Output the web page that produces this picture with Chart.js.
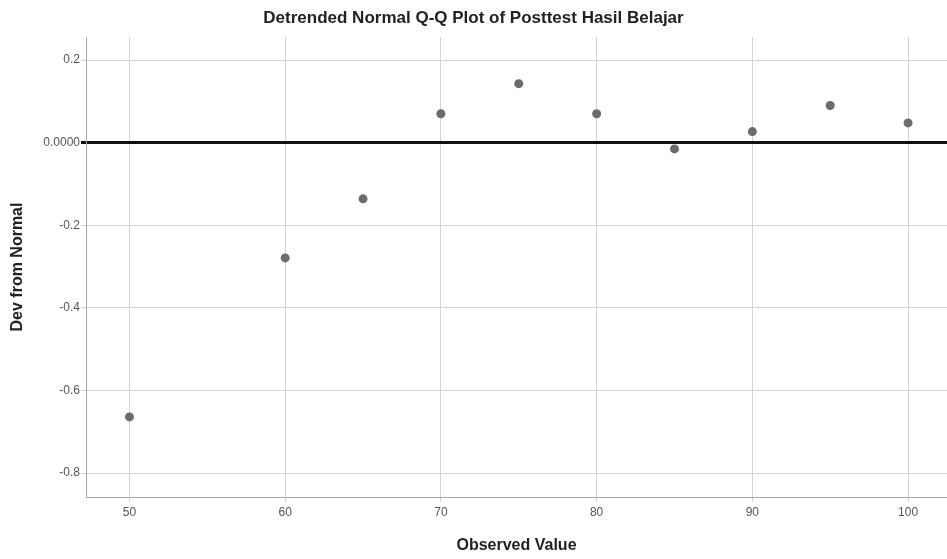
<!DOCTYPE html>
<html>
<head>
<meta charset="utf-8">
<script src="https://cdn.jsdelivr.net/npm/chart.js@4/dist/chart.umd.min.js"></script>
<style>
  html, body { margin: 0; padding: 0; background: #fff; }
  #wrap { width: 947px; height: 559px; }
</style>
</head>
<body>
<div id="wrap"><canvas id="qqChart"></canvas></div>
<script>
// observed values and their deviation from normal
const observed = [50, 60, 65, 70, 75, 80, 85, 90, 95, 100];
const devFromNormal = [-0.664, -0.279, -0.136, 0.070, 0.143, 0.070, -0.015, 0.027, 0.090, 0.048];

const xTicks = [50, 60, 70, 80, 90, 100];
const yTicks = [-0.8, -0.6, -0.4, -0.2, 0, 0.2];

const FONT = "'Liberation Sans', Arial, sans-serif";

const ctx = document.getElementById('qqChart');
new Chart(ctx, {
    type: 'scatter',
    data: {
        datasets: [{
            label: 'Dev from Normal',
            data: observed.map(function(x, i) { return { x: x, y: devFromNormal[i] }; }),
            backgroundColor: '#6c6c6c',
            borderColor: '#6c6c6c',
            borderWidth: 0,
            pointRadius: 4.5,
            pointHoverRadius: 4.5
        }]
    },
    options: {
        responsive: true,
        maintainAspectRatio: false,
        animation: false,
        layout: { padding: 0, autoPadding: false },
        plugins: {
            legend: { display: false },
            tooltip: { enabled: false },
            title: {
                display: true,
                text: 'Detrended Normal Q-Q Plot of Posttest Hasil Belajar',
                color: '#222',
                font: { family: FONT, size: 17, weight: 'bold' },
                padding: { top: 8, bottom: 8.6 }
            }
        },
        scales: {
            x: {
                type: 'linear',
                min: 47.21,
                max: 102.5,
                afterBuildTicks: function(scale) {
                    scale.ticks = xTicks.map(function(v) { return { value: v }; });
                },
                afterFit: function(scale) {
                    scale.height = 62;
                    scale.paddingLeft = 0;
                    scale.paddingRight = 0;
                },
                grid: { color: '#d4d4d4', lineWidth: 1, tickLength: 5 },
                border: { color: '#a6a6a6', width: 1 },
                ticks: {
                    color: '#555',
                    padding: 3,
                    font: { family: FONT, size: 12 }
                },
                title: {
                    display: true,
                    text: 'Observed Value',
                    color: '#222',
                    font: { family: FONT, size: 16, weight: 'bold' },
                    padding: { top: 4, bottom: 4 }
                }
            },
            y: {
                type: 'linear',
                min: -0.858,
                max: 0.256,
                afterBuildTicks: function(scale) {
                    scale.ticks = yTicks.map(function(v) { return { value: v }; });
                },
                afterFit: function(scale) { scale.width = 86; },
                grid: {
                    color: function(c) { return c.tick && c.tick.value === 0 ? '#111' : '#d4d4d4'; },
                    lineWidth: function(c) { return c.tick && c.tick.value === 0 ? 3 : 1; },
                    tickLength: 5
                },
                border: { color: '#a6a6a6', width: 1 },
                ticks: {
                    color: '#555',
                    padding: 1,
                    font: { family: FONT, size: 12 },
                    callback: function(val) {
                        return val === 0 ? '0.0000' : val.toFixed(1);
                    }
                },
                title: {
                    display: true,
                    text: 'Dev from Normal',
                    color: '#222',
                    font: { family: FONT, size: 16, weight: 'bold' },
                    padding: { top: 8, bottom: 8 }
                }
            }
        }
    }
});
</script>
</body>
</html>
